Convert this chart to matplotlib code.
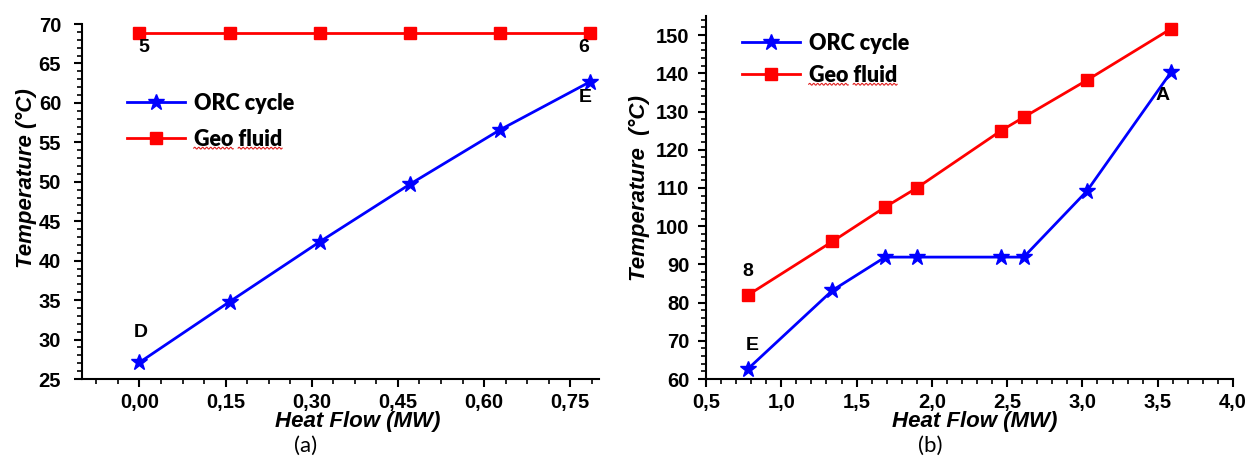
import numpy as np
import matplotlib
matplotlib.use("Agg")
import matplotlib.pyplot as plt
from matplotlib.lines import Line2D
from matplotlib.transforms import IdentityTransform
from matplotlib.ticker import MultipleLocator, AutoMinorLocator, FuncFormatter

plt.rcParams['font.family'] = ['Liberation Sans', 'DejaVu Sans']
plt.rcParams['font.weight'] = 'bold'

# panel (a) data
flow_a = [0.0, 0.157, 0.314, 0.471, 0.628, 0.785]
orc_a = [27.1, 34.8, 42.4, 49.7, 56.6, 62.7]
geo_a = [68.8, 68.8, 68.8, 68.8, 68.8, 68.8]

# panel (b) data
flow_b = [0.78, 1.34, 1.69, 1.90, 2.46, 2.61, 3.03, 3.59]
orc_b = [62.7, 83.2, 91.9, 91.9, 91.9, 91.9, 109.2, 140.4]
geo_b = [82.0, 96.0, 105.0, 110.0, 125.0, 128.5, 138.2, 151.7]

W, H = 1250, 461
fig = plt.figure(figsize=(W / 100, H / 100), dpi=100)


def px_axes(x0, y0, x1, y1):
    # axes from pixel box (top-left origin)
    return fig.add_axes([x0 / W, 1 - y1 / H, (x1 - x0) / W, (y1 - y0) / H])


def comma_fmt(nd):
    return FuncFormatter(lambda v, p: f"{v:.{nd}f}".replace('.', ','))


def style_axes(ax, ypad):
    for s in ['top', 'right']:
        ax.spines[s].set_visible(False)
    for s in ['left', 'bottom']:
        ax.spines[s].set_linewidth(1.5)
    ax.tick_params(which='major', direction='out', length=6, width=1.5, labelsize=14.5)
    ax.tick_params(which='minor', direction='out', length=3.5, width=1.2)
    ax.tick_params(axis='y', which='major', pad=ypad)
    ax.tick_params(axis='x', which='major', pad=4)


def plot_series(ax, x, orc, geo):
    ax.plot(x, geo, color='#ff0000', lw=2, marker='s', ms=8, label='Geo fluid', clip_on=False, zorder=3)
    ax.plot(x, orc, color='#0000ff', lw=2, marker='*', ms=12, label='ORC cycle', clip_on=False, zorder=3)


def add_legend(ax, x, y, spacing):
    h, l = ax.get_legend_handles_labels()
    leg = ax.legend([h[1], h[0]], [l[1], l[0]], loc='upper left', bbox_to_anchor=(x / W, 1 - y / H),
                    bbox_transform=fig.transFigure, frameon=False, borderpad=0, borderaxespad=0,
                    handlelength=2.7, handletextpad=0.4, labelspacing=spacing,
                    prop={'family': 'Lato', 'weight': 'heavy', 'size': 15.5})
    return leg


lab_font = dict(fontsize=16, fontweight='bold', fontstyle='italic')
ann_font = dict(fontsize=14, fontweight='bold', ha='center', va='center', textcoords='offset points')

# ---- panel (a)
ax1 = px_axes(82, 24, 599, 379)
plot_series(ax1, flow_a, orc_a, geo_a)
ax1.set_xlim(-0.1, 0.8)
ax1.set_ylim(25, 70)
ax1.xaxis.set_major_locator(MultipleLocator(0.15))
ax1.xaxis.set_minor_locator(AutoMinorLocator(4))
ax1.yaxis.set_major_locator(MultipleLocator(5))
ax1.yaxis.set_minor_locator(AutoMinorLocator(5))
ax1.xaxis.set_major_formatter(comma_fmt(2))
style_axes(ax1, 9)
ax1.set_xlabel('Heat Flow (MW)', **lab_font)
ax1.set_ylabel('Temperature (°C)', **lab_font)
ax1.xaxis.set_label_coords(0.534, -0.09)
ax1.yaxis.set_label_coords(-0.087, 0.566)
leg1 = add_legend(ax1, 127, 93, 0.68)
ax1.annotate('5', (flow_a[0], geo_a[0]), xytext=(3, -10), **ann_font)
ax1.annotate('6', (flow_a[-1], geo_a[-1]), xytext=(-5, -10), **ann_font)
ax1.annotate('E', (flow_a[-1], orc_a[-1]), xytext=(-4, -11.5), **ann_font)
ax1.annotate('D', (flow_a[0], orc_a[0]), xytext=(1, 21.5), **ann_font)

# ---- panel (b)
ax2 = px_axes(706, 16, 1233, 379)
plot_series(ax2, flow_b, orc_b, geo_b)
ax2.set_xlim(0.5, 4.0)
ax2.xaxis.set_major_locator(MultipleLocator(0.5))
ax2.xaxis.set_minor_locator(AutoMinorLocator(5))
ax2.yaxis.set_major_locator(MultipleLocator(10))
ax2.yaxis.set_minor_locator(AutoMinorLocator(5))
ax2.set_yticks(range(60, 151, 10))
ax2.set_ylim(60, 155)
ax2.xaxis.set_major_formatter(comma_fmt(1))
style_axes(ax2, 6)
ax2.set_xlabel('Heat Flow (MW)', **lab_font)
ax2.set_ylabel('Temperature  (°C)', **lab_font)
ax2.xaxis.set_label_coords(0.509, -0.088)
ax2.yaxis.set_label_coords(-0.106, 0.526)
leg2 = add_legend(ax2, 742, 33, 0.5)
ax2.annotate('8', (flow_b[0], geo_b[0]), xytext=(0, 17), **ann_font)
ax2.annotate('E', (flow_b[0], orc_b[0]), xytext=(3, 17), **ann_font)
ax2.annotate('A', (flow_b[-1], orc_b[-1]), xytext=(-6, -17), **ann_font)

# captions
fig.text(306 / W, 1 - 446 / H, '(a)', fontsize=16, family='Lato', fontweight='normal', ha='center', va='center')
fig.text(930 / W, 1 - 446 / H, '(b)', fontsize=16, family='Lato', fontweight='normal', ha='center', va='center')

# make tick labels bold (ticks are cached after first draw)
fig.canvas.draw()
for ax in (ax1, ax2):
    for lab in ax.get_xticklabels() + ax.get_yticklabels():
        lab.set_fontweight('bold')

# red spell-check squiggle under "Geo" and "fluid"
r = fig.canvas.get_renderer()


def text_width(s, fp):
    tmp = fig.text(0, 0, s, fontproperties=fp)
    w = tmp.get_window_extent(r).width
    tmp.remove()
    return w


for leg in (leg1, leg2):
    t = leg.get_texts()[1]
    fp = t.get_fontproperties()
    bb = t.get_window_extent(r)
    w_geo = text_width('Geo', fp)
    w_geo_sp = text_width('Geo ', fp)
    for a, b in [(bb.x0, bb.x0 + w_geo), (bb.x0 + w_geo_sp, bb.x1)]:
        xs = np.arange(a, b + 0.5, 0.5)
        ys = bb.y0 + 1.5 + 0.9 * np.sin(2 * np.pi * (xs - a) / 4)
        fig.add_artist(Line2D(xs, ys, color='#e02020', lw=0.8, transform=IdentityTransform()))

fig.savefig('out.png', dpi=100)
